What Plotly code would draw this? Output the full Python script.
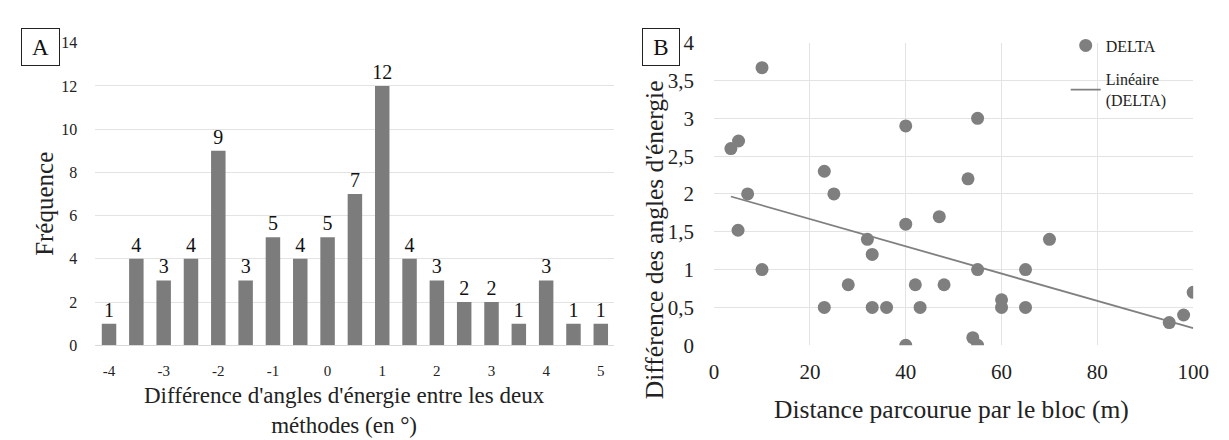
import numpy as np
import plotly.graph_objects as go

# Panel A data
diff_cats = [-4, -3.5, -3, -2.5, -2, -1.5, -1, -0.5, 0, 0.5, 1, 1.5, 2, 2.5, 3, 3.5, 4, 4.5, 5]
freq = [1, 4, 3, 4, 9, 3, 5, 4, 5, 7, 12, 4, 3, 2, 2, 1, 3, 1, 1]
a_ticks = [-4, -3, -2, -1, 0, 1, 2, 3, 4, 5]

# Panel B data
distance = [3.5, 5.1, 5, 7, 10, 10, 23, 23, 25, 28, 32, 33, 33, 36, 40, 40, 40, 42, 43,
            47, 48, 53, 54, 55, 55, 55, 60, 60, 65, 65, 70, 95, 98, 100]
delta = [2.6, 2.7, 1.52, 2.0, 3.67, 1.0, 2.3, 0.5, 2.0, 0.8, 1.4, 1.2, 0.5, 0.5, 2.9, 1.6, 0.0, 0.8, 0.5,
         1.7, 0.8, 2.2, 0.1, 3.0, 1.0, 0.0, 0.6, 0.5, 1.0, 0.5, 1.4, 0.3, 0.4, 0.7]
b_yticks = [0, 0.5, 1, 1.5, 2, 2.5, 3, 3.5, 4]
b_yticklabels = ["0", "0,5", "1", "1,5", "2", "2,5", "3", "3,5", "4"]

FONT = "Times New Roman, Liberation Serif, DejaVu Serif, serif"
W, H = 1229, 440
def px_x(p): return p / W
def px_y(p): return 1 - p / H

fig = go.Figure()

fig.add_trace(go.Bar(
    x=diff_cats, y=freq, text=[str(v) for v in freq], textposition="outside",
    textfont=dict(family=FONT, size=20, color="#111"), constraintext="none",
    marker=dict(color="#7c7c7c", line=dict(width=0)),
    cliponaxis=False, showlegend=False, xaxis="x", yaxis="y",
))

fig.add_trace(go.Scatter(
    x=distance, y=delta, mode="markers", name="DELTA",
    marker=dict(color="#7f7f7f", size=13),
    xaxis="x2", yaxis="y2", legendgroup="a",
))

coef = np.polyfit(distance, delta, 1)
xl = [min(distance), max(distance)]
yl = [coef[0] * v + coef[1] for v in xl]
fig.add_trace(go.Scatter(
    x=xl, y=yl, mode="lines", name="Linéaire<br>(DELTA)",
    line=dict(color="#808080", width=1.8),
    xaxis="x2", yaxis="y2", legendgroup="b",
))

ydom = [1 - 344 / H, 1 - 24 / H]
tickfontAy = dict(family=FONT, size=16, color="#222")
tickfontAx = dict(family=FONT, size=15, color="#222")
tickfontB = dict(family=FONT, size=21, color="#222")

fig.update_layout(
    width=W, height=H, margin=dict(l=0, r=0, t=0, b=0),
    paper_bgcolor="white", plot_bgcolor="white",
    bargap=0.47,
    font=dict(family=FONT, color="#222"),
    xaxis=dict(domain=[px_x(83.8), px_x(611.9)], range=[-4.25, 5.25],
               tickmode="array", tickvals=a_ticks, ticktext=[str(t) for t in a_ticks],
               ticks="outside", ticklen=12, tickcolor="rgba(0,0,0,0)",
               tickfont=tickfontAx, showgrid=False, zeroline=False,
               showline=True, linecolor="#d9d9d9", linewidth=1),
    yaxis=dict(domain=ydom, range=[0, 14], dtick=2, tickfont=tickfontAy,
               showgrid=True, gridcolor="#e3e3e3", gridwidth=1, zeroline=False,
               ticks="outside", ticklen=14, tickcolor="rgba(0,0,0,0)"),
    xaxis2=dict(domain=[px_x(713.3), px_x(1200.7)], range=[0, 100], dtick=20,
                tickfont=tickfontB, showgrid=True, gridcolor="#e3e3e3", zeroline=False,
                showline=False, anchor="y2",
                ticks="outside", ticklen=8, tickcolor="rgba(0,0,0,0)"),
    yaxis2=dict(domain=ydom, range=[0, 4], tickmode="array", tickvals=b_yticks,
                ticktext=b_yticklabels, tickfont=tickfontB, showgrid=True,
                gridcolor="#e3e3e3", zeroline=False, anchor="x2",
                ticks="outside", ticklen=15, tickcolor="rgba(0,0,0,0)"),
    legend=dict(x=px_x(1071), y=px_y(9), xanchor="left", yanchor="top",
                font=dict(family=FONT, size=16, color="#222"),
                bgcolor="rgba(0,0,0,0)", tracegroupgap=10, itemwidth=30),
    showlegend=True,
)

annotations = [
    dict(text="A", x=px_x(8), y=px_y(8), xref="paper", yref="paper", xanchor="left", yanchor="top",
         showarrow=False, font=dict(family=FONT, size=23, color="#111"),
         bordercolor="#222", borderwidth=1, borderpad=0, width=37, height=36),
    dict(text="B", x=px_x(640), y=px_y(8), xref="paper", yref="paper", xanchor="left", yanchor="top",
         showarrow=False, font=dict(family=FONT, size=23, color="#111"),
         bordercolor="#222", borderwidth=1, borderpad=0, width=36, height=36),
    dict(text="Fréquence", x=px_x(32), y=px_y(194), xref="paper", yref="paper",
         xanchor="center", yanchor="middle",
         textangle=-90, showarrow=False, font=dict(family=FONT, size=25, color="#222")),
    dict(text="Différence d'angles d'énergie entre les deux<br>méthodes (en °)",
         x=px_x(337), y=px_y(413), xref="paper", yref="paper", showarrow=False,
         xanchor="center", yanchor="middle",
         font=dict(family=FONT, size=23, color="#222")),
    dict(text="Différence des angles d'énergie", x=px_x(653), y=px_y(232), xref="paper", yref="paper",
         xanchor="center", yanchor="middle",
         textangle=-90, showarrow=False, font=dict(family=FONT, size=25.5, color="#222")),
    dict(text="Distance parcourue par le bloc (m)", x=px_x(955), y=px_y(412), xref="paper", yref="paper",
         xanchor="center", yanchor="middle",
         showarrow=False, font=dict(family=FONT, size=25.5, color="#222")),
]
fig.update_layout(annotations=annotations)

fig.write_html("out.html")
